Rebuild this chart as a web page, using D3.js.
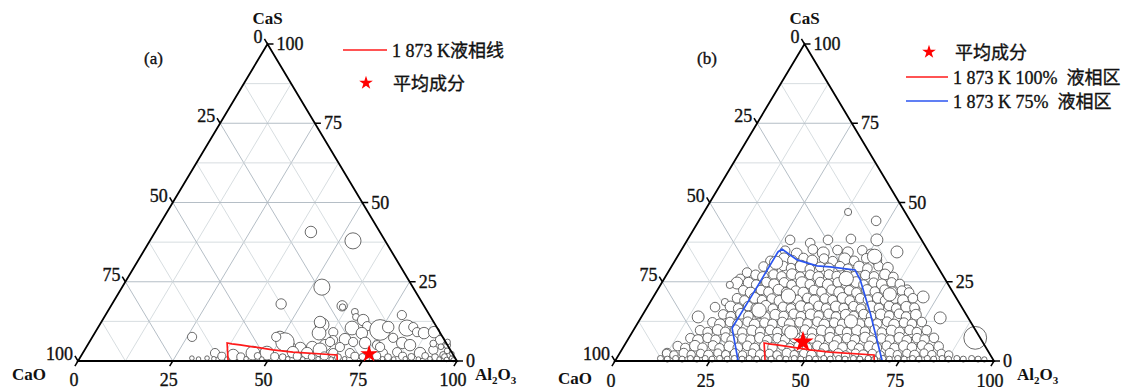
<!DOCTYPE html>
<html><head><meta charset="utf-8">
<script src="https://cdn.jsdelivr.net/npm/d3@7"></script>
<style>body{margin:0;background:#fff}svg{display:block}</style>
</head><body><svg id="c" width="1131" height="387"></svg>
<script>
// ---------- tick / grid values ----------
const tickValues=[0,25,50,75,100];
const gridValues=[12.5,25,37.5,50,62.5,75,87.5];
const panelLabels=["(a)","(b)"];
// ---------- data: [Al2O3 %, CaS %, circle size]  (CaO = 100 - Al2O3 - CaS) ----------
const aInclusions=[
[41.1,40.7,5],[53.6,37.9,7],[52.7,23.3,7],[44.6,18.0,4.5],[61.0,17.4,4.5],[61.3,17.0,2.8],[78.2,14.5,4],[26.3,7.6,4],
[65.3,15.5,3],[66.4,13.9,3],[68.8,12.9,5],[70.8,11.0,4],[67.1,10.4,6],[70.5,8.8,5],[58.7,11.4,6],[59.2,8.8,6],[62.8,9.1,4],[67.0,6.9,5],[57.7,12.3,5],
[74.8,9.8,9],[76.5,10.7,5],[79.5,7.3,4],[81.6,10.4,7],[83.1,10.7,4],[84.9,9.1,4],[86.9,8.8,5],[89.4,9.1,5],[92.2,6.6,4],[94.9,5.0,3],
[82.7,5.7,5],[76.4,5.0,4],[72.9,5.7,5],[69.6,6.0,4],[64.0,6.6,4],[62.7,5.0,5],[59.6,4.4,5],[56.6,4.1,5],[53.7,4.4,5],[49.5,7.6,5],[51.6,6.0,8],[48.5,7.6,4],
[85.1,5.0,5],[92.0,3.5,4],[89.0,2.5,5],[82.8,2.8,4],[79.2,2.5,4],[70.5,2.5,4],[66.1,2.5,4],[62.1,3.5,6],[59.2,2.5,5],[55.3,2.8,5],[48.6,2.5,6],[44.9,2.5,6],[40.0,1.9,5],[34.9,2.5,4],[29.6,0.9,2],[33.6,0.9,2],[95.4,1.9,3],[97.2,1.9,3],[77.5,4.4,4],[63.5,6.0,4],[66.9,4.4,4],
[37.2,1.5,3.5],[42.3,1.3,3.5],[46.6,1.6,3],[51.2,1.4,3.5],[53.4,1.2,3],[57.1,1.5,3.5],[61.0,1.3,3],[64.2,1.6,3.5],[68.0,1.2,3],[72.3,1.5,3.5],[74.4,1.3,3],[78.0,1.6,3.5],[81.2,1.2,3],[84.9,1.5,3.5],[87.3,1.3,3],[90.8,1.6,3],[93.6,1.2,3],[96.0,1.4,2.5],[98.1,0.9,2],
[31.5,0.6,2],[35.5,0.7,2],[39.0,0.6,2],[44.0,0.7,2],[48.2,0.6,2],[55.0,0.7,2],[59.0,0.6,2],[63.0,0.7,2],[66.5,0.6,2],[70.0,0.7,2],[76.0,0.6,2],[80.0,0.7,2],[83.0,0.6,2],[86.0,0.7,2],[89.5,0.6,2],[92.5,0.7,2],[95.0,0.6,2],[97.0,0.5,2],[98.8,0.4,1.8],
[93.5,4.5,2.5],[95.8,3.2,2.5],[97.5,2.3,2],[94.5,6.0,2.5],[91.0,5.5,3]
];
const bInclusions=[
[38.0,47.0,3],[46.8,44.2,4],[50.0,38.2,5],[57.2,34.4,5],[27.1,38.2,4],[32.9,37.2,4],[37.1,38.2,4],[43.0,38.5,4],[71.2,20.2,5],[79.0,13.6,5],[91.4,7.3,9.5],
[20.9,27.9,4],[20.1,25.9,4],[19.9,24.6,5],[18.3,24.0,3],[23.2,23.3,5],[17.9,17.0,4],[19.7,18.6,3],[15.0,13.9,5],[23.5,14.2,5],[26.3,16.1,4],[27.6,14.5,4],[12.5,2.5,4],
[65.8,22.5,4],[66.4,18.7,4],[71.1,16.2,4],[74.7,10.5,5],[75.6,6.0,4],[76.4,2.8,4],
[27.5,34.8,4],[31.0,33.9,4.5],[34.6,35.2,4],[37.9,34.1,5],[41.2,35.0,4],[44.3,34.3,4.5],[47.8,34.9,4],[50.6,33.8,4],
[25.2,31.6,4],[28.4,32.4,4.5],[30.9,31.8,4],[33.5,32.5,4],[36.2,31.7,4.5],[39.0,32.3,4],[41.7,31.5,4],[44.5,32.2,5],[47.3,31.6,4],[50.1,32.4,4],[53.0,31.9,4.5],
[24.3,29.8,4],[26.9,29.1,4.5],[29.4,30.0,4],[31.8,29.3,4],[34.2,29.9,5],[36.9,29.0,4],[39.3,29.7,4],[41.8,29.2,4.5],[44.4,29.9,4],[46.9,29.1,4],[49.5,29.8,4.5],[52.0,29.2,4],[54.6,29.9,4],[57.3,29.4,4.5],
[23.5,27.2,4],[25.8,26.5,4.5],[28.2,27.3,4],[30.6,26.7,4],[33.0,27.4,4.5],[35.5,26.6,4],[37.9,27.2,4],[40.4,26.5,4.5],[42.8,27.3,4],[45.1,26.8,4],[47.6,27.4,4],[50.0,26.6,4.5],[52.5,27.1,4],[55.0,26.7,4],[57.6,27.3,4.5],[60.2,26.5,4],
[22.9,24.7,4.5],[25.2,24.1,4],[27.5,24.9,4],[29.9,24.2,4.5],[32.2,24.8,4],[34.6,24.0,4],[37.0,24.7,5],[39.3,24.2,4],[41.7,24.9,4],[44.1,24.1,4.5],[46.4,24.8,4],[48.8,24.3,4],[51.2,24.9,4.5],[53.5,24.1,4],[55.9,24.7,4],[58.3,24.2,4.5],[60.6,24.8,4],[63.0,24.3,4],
[22.7,22.3,4],[25.0,21.6,4.5],[27.3,22.4,4],[29.6,21.8,4],[31.9,22.5,4.5],[34.3,21.7,4],[36.6,22.2,4],[38.9,21.6,4.5],[41.3,22.4,4],[43.6,21.8,4],[45.9,22.5,4],[48.3,21.7,4.5],[50.6,22.3,4],[52.9,21.6,4],[55.3,22.4,4.5],[57.6,21.9,4],[59.9,22.5,4],[62.3,21.7,4.5],[64.6,22.2,4],[66.8,21.6,4],
[22.3,19.8,4],[24.6,19.1,4],[26.9,19.9,4.5],[29.2,19.2,4],[31.5,19.7,4],[33.9,19.0,4.5],[36.2,19.8,4],[38.5,19.3,4],[40.8,19.9,4],[43.1,19.1,4.5],[45.5,19.7,4],[47.8,19.2,4],[50.1,19.9,4.5],[52.4,19.1,4],[54.8,19.8,4],[57.1,19.3,4],[59.4,19.9,4.5],[61.7,19.1,4],[64.0,19.7,4],[66.4,19.2,4.5],[68.7,19.8,4],
[21.9,17.2,4.5],[24.2,16.6,4],[26.5,17.3,4],[28.8,16.7,4],[31.1,17.4,4.5],[33.4,16.5,4],[35.8,17.1,4],[38.1,16.6,4],[40.4,17.3,4.5],[42.7,16.8,4],[45.0,17.4,4],[47.4,16.6,4],[49.7,17.2,4.5],[52.0,16.7,4],[54.3,17.3,4],[56.6,16.5,4],[59.0,17.2,4.5],[61.3,16.7,4],[63.6,17.4,4],[65.9,16.6,4],[68.3,17.1,4.5],[70.6,16.8,4],
[21.2,14.7,4],[23.5,14.1,4],[25.8,14.9,4.5],[28.1,14.2,4],[30.4,14.8,4],[32.7,14.0,4],[35.0,14.6,4.5],[37.4,14.2,4],[39.7,14.9,4],[42.0,14.1,4],[44.3,14.7,4.5],[46.6,14.3,4],[48.9,14.9,4],[51.3,14.0,4],[53.6,14.6,4.5],[55.9,14.2,4],[58.2,14.8,4],[60.5,14.1,4],[62.8,14.7,4.5],[65.2,14.3,4],[67.5,14.9,4],[69.8,14.0,4],[72.1,14.6,4.5],
[19.6,12.2,4],[21.9,11.6,4.5],[24.2,12.3,4],[26.5,11.7,4],[28.8,12.4,4],[31.1,11.5,4.5],[33.4,12.1,4],[35.7,11.7,4],[38.0,12.3,4],[40.3,11.6,4.5],[42.6,12.2,4],[44.9,11.8,4],[47.2,12.4,4],[49.5,11.5,4.5],[51.8,12.1,4],[54.1,11.7,4],[56.4,12.3,4],[58.7,11.6,4.5],[61.0,12.2,4],[63.3,11.8,4],[65.6,12.4,4],[67.9,11.5,4.5],[70.2,12.1,4],[72.5,11.7,4],[74.8,12.3,4],
[17.6,9.7,4],[19.9,9.1,4],[22.2,9.8,4.5],[24.5,9.2,4],[26.8,9.9,4],[29.1,9.0,4],[31.4,9.6,4.5],[33.7,9.2,4],[36.0,9.8,4],[38.3,9.1,4],[40.6,9.7,4.5],[42.9,9.3,4],[45.2,9.9,4],[47.5,9.0,4],[49.8,9.6,4.5],[52.1,9.2,4],[54.4,9.8,4],[56.7,9.1,4],[59.0,9.7,4.5],[61.3,9.3,4],[63.6,9.9,4],[65.9,9.0,4],[68.2,9.6,4.5],[70.5,9.2,4],[72.8,9.8,4],[75.1,9.1,4],[77.4,9.7,4],
[16.3,7.2,4],[18.6,6.6,4.5],[20.8,7.3,4],[23.2,6.7,4],[25.5,7.4,4],[27.7,6.5,4.5],[30.1,7.1,4],[32.4,6.7,4],[34.6,7.3,4.5],[36.9,6.6,4],[39.3,7.2,4],[41.5,6.8,4],[43.8,7.4,4.5],[46.2,6.5,4],[48.4,7.1,4],[50.7,6.7,4],[53.1,7.3,4.5],[55.3,6.6,4],[57.6,7.2,4],[59.9,6.8,4],[62.3,7.4,4.5],[64.5,6.5,4],[66.8,7.1,4],[69.2,6.7,4],[71.4,7.3,4.5],[73.7,6.6,4],[76.1,7.2,4],[78.3,6.8,4],[80.5,7.3,4],
[14.2,4.7,4],[16.5,4.1,4],[18.7,4.8,4.5],[21.0,4.2,4],[23.4,4.9,4],[25.6,4.0,4],[27.9,4.6,4.5],[30.3,4.2,4],[32.5,4.8,4],[34.8,4.1,4],[37.2,4.7,4.5],[39.4,4.3,4],[41.7,4.9,4],[44.1,4.0,4],[46.3,4.6,4.5],[48.6,4.2,4],[51.0,4.8,4],[53.2,4.1,4],[55.5,4.7,4.5],[57.9,4.3,4],[60.1,4.9,4],[62.4,4.0,4],[64.8,4.6,4.5],[67.0,4.2,4],[69.3,4.8,4],[71.7,4.1,4],[73.9,4.7,4.5],[76.2,4.3,4],[78.6,4.9,4],[80.8,4.0,4],[83.1,4.6,4],
[12.4,2.4,3.5],[14.6,1.9,3.5],[16.9,2.5,4],[19.1,2.0,3.5],[21.4,2.4,3.5],[23.7,1.9,4],[25.9,2.5,3.5],[28.2,2.0,3.5],[30.5,2.4,4],[32.7,1.9,3.5],[35.0,2.5,3.5],[37.3,2.0,4],[39.5,2.4,3.5],[41.8,1.9,3.5],[44.1,2.5,4],[46.3,2.0,3.5],[48.6,2.4,3.5],[50.9,1.9,4],[53.1,2.5,3.5],[55.4,2.0,3.5],[57.7,2.4,4],[59.9,1.9,3.5],[62.2,2.5,3.5],[64.5,2.0,4],[66.7,2.4,3.5],[69.0,1.9,3.5],[71.3,2.5,4],[73.5,2.0,3.5],[75.8,2.4,3.5],[78.1,1.9,4],[80.3,2.5,3.5],[82.6,2.0,3.5],[84.9,2.4,3.5],[87.1,1.9,3.5],
[11.6,0.8,2.5],[13.5,0.6,2.5],[15.6,0.8,2.5],[17.4,0.6,2.5],[19.5,0.8,2.5],[21.3,0.6,2.5],[23.4,0.8,2.5],[25.3,0.6,2.5],[27.2,0.8,2.5],[29.3,0.6,2.5],[31.1,0.8,2.5],[33.2,0.6,2.5],[35.0,0.8,2.5],[37.1,0.6,2.5],[39.0,0.8,2.5],[40.9,0.6,2.5],[43.0,0.8,2.5],[44.8,0.6,2.5],[46.9,0.8,2.5],[48.7,0.6,2.5],[50.8,0.8,2.5],[52.6,0.6,2.5],[54.7,0.8,2.5],[56.5,0.6,2.5],[58.6,0.8,2.5],[60.4,0.6,2.5],[62.5,0.8,2.5],[64.3,0.6,2.5],[66.4,0.8,2.5],[68.2,0.6,2.5],[70.3,0.8,2.5],[72.1,0.6,2.5],[74.2,0.8,2.5],[76.0,0.6,2.5],[78.1,0.8,2.5],[79.9,0.6,2.5],[82.0,0.8,2.5],[83.8,0.6,2.5],[85.9,0.8,2.5],[87.7,0.6,2.5],[89.8,0.8,2.5],[91.6,0.6,2.5],[93.7,0.8,2.5],[95.5,0.6,2.5],[97.2,0.5,2.2],
[35.5,20.5,6],[48.0,26.0,6],[56.0,12.5,5.5],[30.0,16.0,6],[42.0,9.0,5.5],[62.0,21.0,5.5],[27.0,31.0,5.5],[52.0,33.0,6]
];
const aMean=[75.7,2.2];
const bMean=[46.6,6.0];
const liquidus100=[[39.6,0],[36.5,5.7],[37.9,5.4],[40.2,5.1],[49.7,3.5],[55.3,2.8],[67.4,1.9],[68.4,0]];
const liquidus75=[[32.5,0],[25.7,10.4],[25.8,23.3],[25.8,34.4],[26.4,35.3],[32.1,31.9],[38.3,30.0],[41.9,29.7],[49.0,28.7],[51.9,25.6],[59.8,15.1],[70.5,0]];

// ---------- drawing ----------
const svg=d3.select("#c");
const SW=379, SH=317;
const serif='"Liberation Serif","Times New Roman",serif';
const mixed='"Liberation Serif","Noto Sans CJK SC",serif';
const star=d3.symbol().type(d3.symbolStar);
const heavy=sel=>sel.attr("stroke","#111").attr("stroke-width",0.35);

function panel(x0, base, inclusions, mean, lines, labelIdx, opt){
  const xs=d3.scaleLinear().domain([0,100]).range([x0,x0+SW]);
  const ys=d3.scaleLinear().domain([0,100]).range([base,base-SH]);
  const rs=d3.scaleLinear().domain([0,10]).range([0,10*opt.rk]);
  const P=(al,cas)=>[xs(al+cas/2), ys(cas)];
  const g=svg.append("g");
  // grid
  const grid=[];
  gridValues.forEach(v=>{
    const major=(v%25===0);
    grid.push({a:P(0,v),b:P(100-v,v),major});
    grid.push({a:P(v,0),b:P(v,100-v),major});
    grid.push({a:P(100-v,0),b:P(0,100-v),major});
  });
  g.selectAll(".grid").data(grid).join("line")
    .attr("x1",d=>d.a[0]).attr("y1",d=>d.a[1]).attr("x2",d=>d.b[0]).attr("y2",d=>d.b[1])
    .attr("stroke",d=>d.major?"#adb7bf":"#d3d9dd").attr("stroke-width",0.9);
  // inclusions
  g.selectAll(".inc").data(inclusions).join("circle")
    .attr("cx",d=>P(d[0],d[1])[0]).attr("cy",d=>P(d[0],d[1])[1]).attr("r",d=>rs(d[2]))
    .attr("fill","#fff").attr("stroke","#505050").attr("stroke-width",0.85);
  // liquidus lines
  const ln=d3.line().x(d=>P(d[0],d[1])[0]).y(d=>P(d[0],d[1])[1]);
  lines.forEach(L=>{
    g.append("path").attr("d",ln(L.pts)).attr("fill","none").attr("stroke",L.color).attr("stroke-width",1.7);
  });
  // frame
  const tri=[P(0,0),P(100,0),P(0,100)];
  g.append("path").attr("d","M"+tri.map(p=>p.join(",")).join("L")+"Z")
    .attr("fill","none").attr("stroke","#000").attr("stroke-width",1.8);
  const tk=[];
  tickValues.forEach(t=>{
    const pb=P(t,0); tk.push([pb,[pb[0]-3.1,pb[1]+5.2]]);
    const pr=P(100-t,t); tk.push([pr,[pr[0]+6,pr[1]]]);
    const pl=P(0,100-t); tk.push([pl,[pl[0]-3.1,pl[1]-5.2]]);
  });
  g.selectAll(".tk").data(tk).join("line")
    .attr("x1",d=>d[0][0]).attr("y1",d=>d[0][1]).attr("x2",d=>d[1][0]).attr("y2",d=>d[1][1])
    .attr("stroke","#000").attr("stroke-width",1.5);
  // tick labels
  const lab=g.append("g").attr("font-family",serif).attr("font-size",18).attr("fill","#111").call(heavy);
  tickValues.forEach(t=>{
    const pb=P(t,0);
    lab.append("text").attr("x",pb[0]-4).attr("y",base+opt.bottomDy).attr("text-anchor","middle").text(t);
    const pr=P(100-t,t);
    lab.append("text").attr("x",pr[0]+9).attr("y",pr[1]+6).text(t);
    const pl=P(0,100-t);
    lab.append("text").attr("x",pl[0]-5).attr("y",pl[1]-1).attr("text-anchor","end").text(t);
  });
  // axis names
  const nm=g.append("g").attr("font-family",serif).attr("font-size",17).attr("font-weight","bold").attr("fill","#111");
  const apex=P(0,100);
  nm.append("text").attr("x",apex[0]).attr("y",24).attr("text-anchor","middle").text("CaS");
  nm.append("text").attr("x",x0-opt.caoDx).attr("y",opt.caoY).text("CaO");
  const al=nm.append("text").attr("x",x0+SW+opt.alDx).attr("y",380);
  al.append("tspan").text("Al");
  al.append("tspan").attr("font-size",11).attr("dy",4).text("2");
  al.append("tspan").attr("dy",-4).text("O");
  al.append("tspan").attr("font-size",11).attr("dy",4).text("3");
  g.append("text").attr("x",opt.plx).attr("y",64).attr("font-family",serif).attr("font-size",17).attr("fill","#111").call(heavy).text(panelLabels[labelIdx]);
  // mean composition star
  const m=P(mean[0],mean[1]);
  g.append("path").attr("d",star.size(opt.starSize)()).attr("transform",`translate(${m[0]},${m[1]})`).attr("fill","#ff0000");
  return g;
}

panel(78,361,aInclusions,aMean,[{pts:liquidus100,color:"#ff1a1a"}],0,{bottomDy:25,caoDx:66,caoY:380,alDx:18,plx:144,starSize:95,rk:1.15});
panel(615,361,bInclusions,bMean,[{pts:liquidus100,color:"#ff1a1a"},{pts:liquidus75,color:"#2b55f0"}],1,{bottomDy:26,caoDx:57,caoY:384,alDx:23,plx:697,starSize:140,rk:1.2});

// ---------- legends ----------
const leg=svg.append("g").attr("font-family",mixed).attr("font-size",18).attr("fill","#111").call(heavy);
leg.append("line").attr("x1",343).attr("x2",387).attr("y1",50).attr("y2",50).attr("stroke","#ff1a1a").attr("stroke-width",1.6);
leg.append("text").attr("x",392).attr("y",57).text("1 873 K液相线");
leg.append("path").attr("d",star.size(58)()).attr("transform","translate(366,83)").attr("fill","#ff0000").attr("stroke","none");
leg.append("text").attr("x",393).attr("y",90).text("平均成分");

leg.append("path").attr("d",star.size(58)()).attr("transform","translate(929,52)").attr("fill","#ff0000").attr("stroke","none");
leg.append("text").attr("x",955).attr("y",59).text("平均成分");
leg.append("line").attr("x1",906).attr("x2",948).attr("y1",77).attr("y2",77).attr("stroke","#ff1a1a").attr("stroke-width",1.6);
const t1=leg.append("text").attr("x",953).attr("y",84);
t1.append("tspan").text("1 873 K 100%");
t1.append("tspan").attr("dx",9).text("液相区");
leg.append("line").attr("x1",906).attr("x2",948).attr("y1",101).attr("y2",101).attr("stroke","#2b55f0").attr("stroke-width",1.6);
const t2=leg.append("text").attr("x",953).attr("y",108);
t2.append("tspan").text("1 873 K 75%");
t2.append("tspan").attr("dx",9).text("液相区");
</script></body></html>
